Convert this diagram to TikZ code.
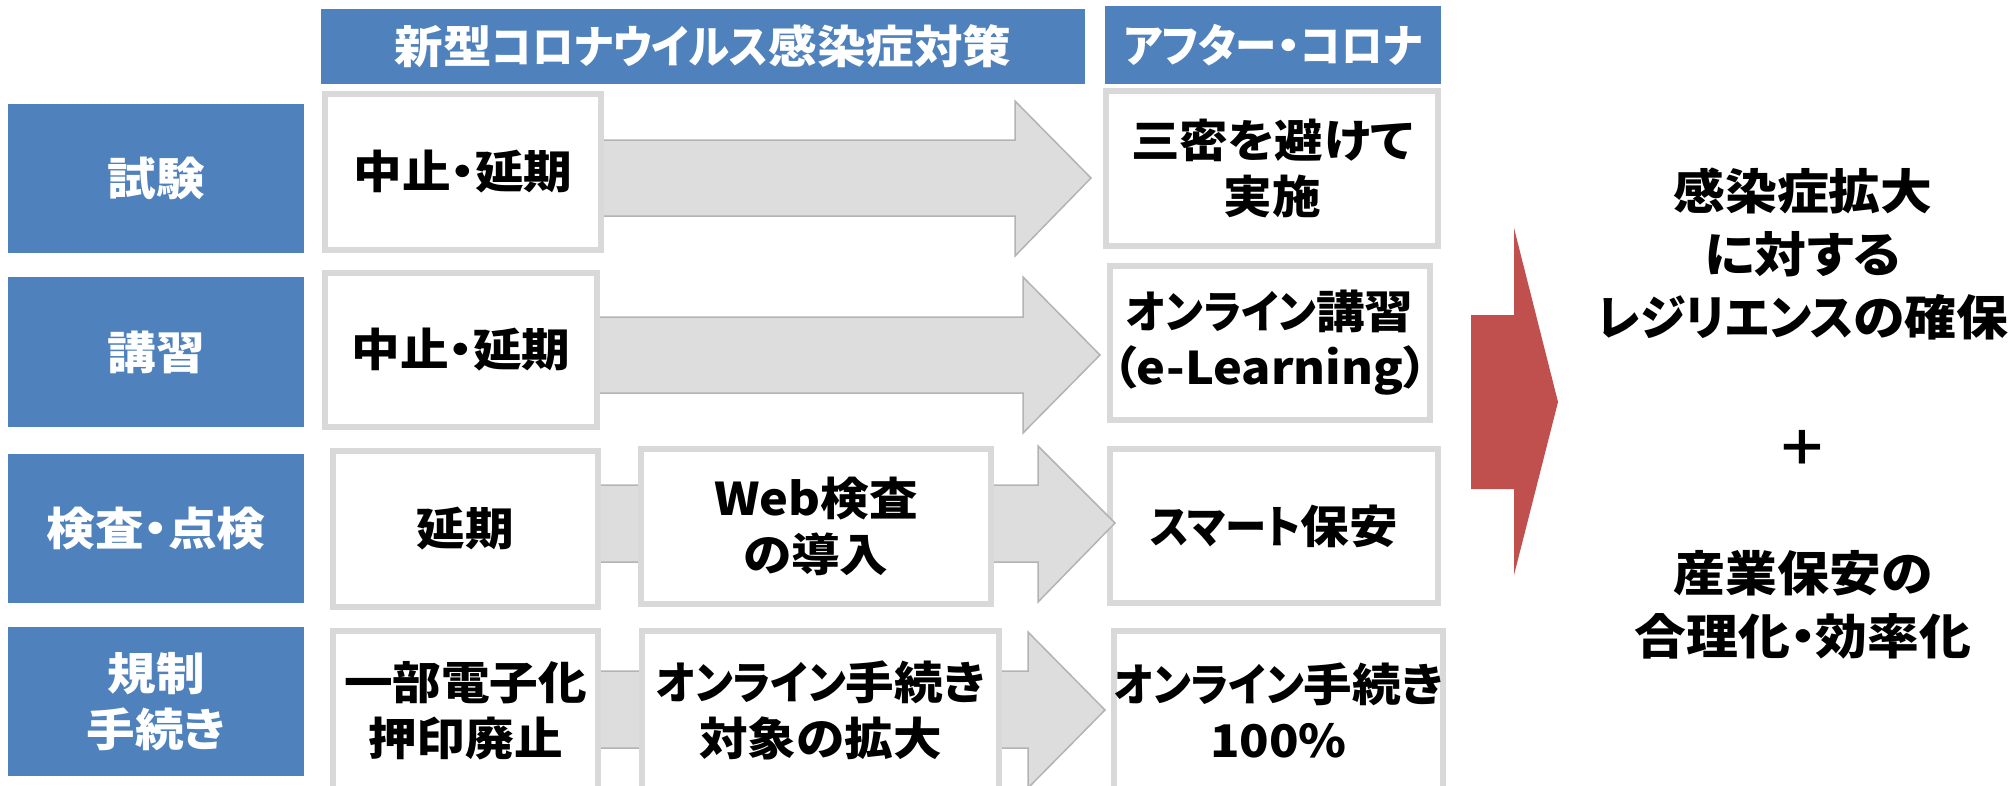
\documentclass[tikz,border=0pt]{standalone}
\usepackage{fontspec}
\setmainfont{Noto Sans CJK JP}[RawFeature=+palt, FakeStretch=1.08]
\newfontfamily\ktfont{Noto Sans CJK JP}[RawFeature=+palt, FakeStretch=0.92]
\newfontfamily\ktwfont{Noto Sans CJK JP}[RawFeature=+palt, FakeStretch=0.96]
\newcommand{\kt}[1]{{\ktfont #1}}
\newcommand{\ktw}[1]{{\ktwfont #1}}
\definecolor{blueA}{HTML}{4F81BD}
\definecolor{redA}{HTML}{C0504D}
\definecolor{borderA}{HTML}{D9D9D9}
\definecolor{afill}{HTML}{DDDDDD}
\definecolor{aline}{HTML}{B3B3B3}
\begin{document}
\begin{tikzpicture}[x=1pt,y=-1pt,
  bodyfont/.style={font=\fontsize{45}{56}\selectfont\bfseries},
  lbl/.style={fill=blueA, text=white, inner sep=0pt, align=center, bodyfont, minimum width=296pt},
  hdr/.style={fill=blueA, text=white, inner sep=0pt, align=center, bodyfont},
  wbox/.style={draw=borderA, line width=6pt, fill=white, inner sep=0pt, align=center, bodyfont},
  garrow/.style={fill=afill, draw=aline, line width=1.5pt, line join=miter},
  rarrow/.style={fill=redA, draw=none},
  bigtext/.style={font=\fontsize{48}{63}\selectfont\bfseries, align=center, inner sep=0pt}
  ]
\useasboundingbox (0,0) rectangle (2013,785);

% headers
\node[hdr, minimum width=764pt, minimum height=75pt] (H1) at (703,46.5) {新型\kt{コロナウイルス}感染症対策};
\node[hdr, minimum width=336pt, minimum height=78pt] (H2) at (1273,45) {\kt{アフター}・\kt{コロナ}};

% left labels
\node[lbl, minimum height=149pt] (L1) at (156,178.5) {試験};
\node[lbl, minimum height=150pt] (L2) at (156,352) {講習};
\node[lbl, minimum height=149pt] (L3) at (156,528.5) {検査・点検};
\node[lbl, minimum height=149pt] (L4) at (156,701.5) {規制\\手続き};

% right column boxes (after corona)
\node[wbox, minimum width=332pt, minimum height=155pt] (C1) at (1272,168.5) {三密を避けて\\実施};
\node[wbox, minimum width=320pt, minimum height=154pt] (C2) at (1270,343) {\kt{オンライン}講習\\（e-Learning）};
\node[wbox, minimum width=328pt, minimum height=154pt] (C3) at (1274,526) {\kt{スマート}保安};
\node[wbox, minimum width=329pt, minimum height=159pt] (C4) at (1278.5,710.5) {\kt{オンライン}手続き\\100\%};

% gray arrows
\draw[garrow] (590,140) -- (1015,140) -- (1015,101) -- (1091,178) -- (1015,256) -- (1015,216) -- (590,216) -- cycle;
\draw[garrow] (590,317) -- (1023,317) -- (1023,277) -- (1100,355) -- (1023,433) -- (1023,393) -- (590,393) -- cycle;
\draw[garrow] (590,485) -- (1038,485) -- (1038,446) -- (1115,523) -- (1038,602) -- (1038,562) -- (590,562) -- cycle;
\draw[garrow] (590,671) -- (1028,671) -- (1028,632) -- (1105,710) -- (1028,788) -- (1028,748) -- (590,748) -- cycle;

% left / middle column boxes
\node[wbox, minimum width=276pt, minimum height=156pt] (A1) at (463,172) {中止・延期};
\node[wbox, minimum width=272pt, minimum height=154pt] (A2) at (461,350) {中止・延期};
\node[wbox, minimum width=265pt, minimum height=156pt] (A3) at (465.5,529) {延期};
\node[wbox, minimum width=265pt, minimum height=159pt] (A4) at (465.5,710.5) {一部電子化\\押印廃止};
\node[wbox, minimum width=350pt, minimum height=155pt] (B3) at (816,526.5) {Web検査\\の導入};
\node[wbox, minimum width=357pt, minimum height=159pt] (B4) at (820.5,710.5) {\kt{オンライン}手続き\\対象の拡大};

% red arrow
\fill[rarrow] (1471,315) -- (1514,315) -- (1514,228) -- (1558,402) -- (1514,575) -- (1514,489) -- (1471,489) -- cycle;

% right text
\node[bigtext] (T1) at (1803,254) {感染症拡大\\に対する\\\ktw{レジリエンス}の確保};
\node[font=\fontsize{48}{58}\selectfont\bfseries, inner sep=0pt] (T2) at (1802,448) {＋};
\node[bigtext] (T3) at (1803,605) {産業保安の\\合理化・効率化};
\end{tikzpicture}
\end{document}
